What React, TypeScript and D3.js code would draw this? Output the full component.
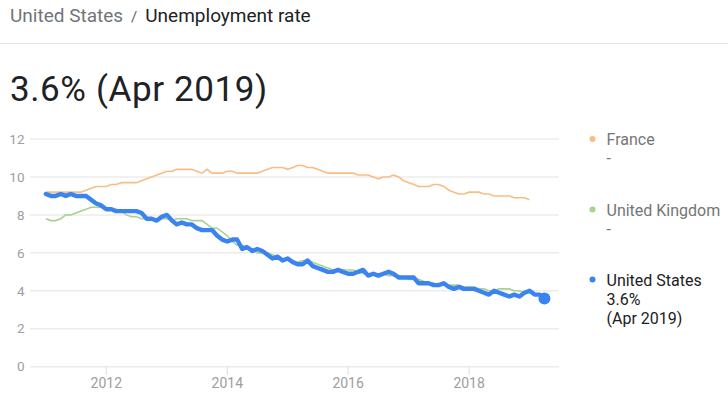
import * as d3 from "d3";

// monthly values, Jan 2011 onwards
const START_YEAR = 2011;

const usRate = [
  9.1, 9.0, 9.0, 9.1, 9.0, 9.1, 9.0, 9.0, 9.0, 8.8, 8.6, 8.5,
  8.3, 8.3, 8.2, 8.2, 8.2, 8.2, 8.2, 8.1, 7.8, 7.8, 7.7, 7.9,
  8.0, 7.7, 7.5, 7.6, 7.5, 7.5, 7.3, 7.2, 7.2, 7.2, 6.9, 6.7,
  6.6, 6.7, 6.7, 6.2, 6.3, 6.1, 6.2, 6.1, 5.9, 5.7, 5.8, 5.6,
  5.7, 5.5, 5.4, 5.4, 5.6, 5.3, 5.2, 5.1, 5.0, 5.0, 5.1, 5.0,
  4.9, 4.9, 5.0, 5.1, 4.8, 4.9, 4.8, 4.9, 5.0, 4.9, 4.7, 4.7,
  4.7, 4.7, 4.4, 4.4, 4.4, 4.3, 4.3, 4.4, 4.2, 4.1, 4.2, 4.1,
  4.1, 4.1, 4.0, 3.9, 3.8, 4.0, 3.9, 3.8, 3.7, 3.8, 3.7, 3.9,
  4.0, 3.8, 3.8, 3.6,
];

const franceRate = [
  9.2, 9.2, 9.2, 9.2, 9.2, 9.2, 9.2, 9.2, 9.3, 9.4, 9.5, 9.5,
  9.5, 9.6, 9.6, 9.7, 9.7, 9.7, 9.7, 9.8, 9.9, 10.0, 10.1, 10.2,
  10.3, 10.3, 10.4, 10.4, 10.4, 10.4, 10.3, 10.2, 10.4, 10.2, 10.2, 10.2,
  10.3, 10.3, 10.2, 10.2, 10.2, 10.2, 10.2, 10.3, 10.4, 10.5, 10.5, 10.5,
  10.4, 10.5, 10.6, 10.6, 10.5, 10.5, 10.4, 10.3, 10.2, 10.2, 10.2, 10.2,
  10.2, 10.2, 10.1, 10.1, 10.1, 10.0, 9.9, 10.0, 10.0, 10.1, 10.0, 9.8,
  9.7, 9.6, 9.5, 9.5, 9.5, 9.6, 9.6, 9.5, 9.3, 9.2, 9.1, 9.1,
  9.2, 9.2, 9.2, 9.1, 9.1, 9.0, 9.0, 9.0, 9.0, 8.9, 8.9, 8.9,
  8.8,
];

const ukRate = [
  7.8, 7.7, 7.7, 7.8, 8.0, 8.0, 8.1, 8.2, 8.3, 8.4, 8.4, 8.4,
  8.3, 8.3, 8.2, 8.2, 8.0, 7.9, 7.9, 7.8, 7.8, 7.8, 7.8, 7.8,
  7.8, 7.7, 7.8, 7.8, 7.8, 7.7, 7.7, 7.7, 7.5, 7.3, 7.3, 7.1,
  6.9, 6.6, 6.4, 6.4, 6.3, 6.2, 6.0, 6.0, 6.0, 5.9, 5.8, 5.7,
  5.7, 5.6, 5.5, 5.6, 5.6, 5.5, 5.4, 5.3, 5.2, 5.1, 5.1, 5.1,
  5.1, 5.1, 5.0, 4.9, 4.9, 4.9, 4.9, 4.9, 4.8, 4.8, 4.8, 4.7,
  4.6, 4.6, 4.6, 4.5, 4.4, 4.4, 4.3, 4.3, 4.3, 4.3, 4.3, 4.2,
  4.2, 4.2, 4.1, 4.1, 4.0, 4.0, 4.1, 4.1, 4.1, 4.0, 4.0, 3.9,
  3.9,
];

const yTicks = [0, 2, 4, 6, 8, 10, 12];
const xTickYears = [2012, 2014, 2016, 2018];

const COLORS = {
  france: "#f9bd84",
  uk: "#a9d28f",
  us: "#3b84ef",
  grid: "#ececec",
  axisText: "#9e9e9e",
  legendText: "#757575",
  dark: "#202124",
};

const FONT = "Roboto, 'Noto Sans', sans-serif";

const PLOT = { left: 30, right: 559, top: 139, bottom: 366.7 };

type Pt = { date: Date; value: number };

function toPoints(values: number[]): Pt[] {
  return values.map((value, i) => ({
    date: new Date(START_YEAR + Math.floor(i / 12), i % 12, 1),
    value,
  }));
}

export default function App() {
  const x = d3
    .scaleTime()
    .domain([new Date(2010, 8, 27), new Date(2019, 5, 28)])
    .range([PLOT.left, PLOT.right]);
  const y = d3.scaleLinear().domain([0, 12]).range([PLOT.bottom, PLOT.top]);

  const line = d3
    .line<Pt>()
    .x((d) => x(d.date))
    .y((d) => y(d.value));

  const us = toPoints(usRate);
  const last = us[us.length - 1];

  const legend = [
    { name: "France", color: COLORS.france, lines: ["-"], top: 139, dark: false },
    { name: "United Kingdom", color: COLORS.uk, lines: ["-"], top: 209.5, dark: false },
    { name: "United States", color: COLORS.us, lines: ["3.6%", "(Apr 2019)"], top: 279.5, dark: true },
  ];

  return (
    <svg
      width={728}
      height={395}
      style={{ position: "absolute", left: 0, top: 0, background: "#fff" }}
      fontFamily={FONT}
    >
      {/* header */}
      <text x={10} y={22} fontSize={19}>
        <tspan fill="#70757a">United States</tspan>
        <tspan fill="#5f6368" dx={8} fontSize={15}>/</tspan>
        <tspan fill={COLORS.dark} dx={8}>Unemployment rate</tspan>
      </text>
      <line x1={0} x2={728} y1={43.5} y2={43.5} stroke="#e3e3e3" />
      <text x={10} y={101} fontSize={35} letterSpacing={0.6} fill={COLORS.dark}>
        3.6% (Apr 2019)
      </text>

      {/* grid + y labels */}
      {yTicks.map((t) => (
        <g key={t}>
          <line
            x1={PLOT.left}
            x2={PLOT.right}
            y1={y(t)}
            y2={y(t)}
            stroke={COLORS.grid}
            strokeWidth={1.5}
          />
          <text
            x={24.5}
            y={y(t)}
            dy="0.35em"
            textAnchor="end"
            fontSize={13.5}
            fill={COLORS.axisText}
          >
            {t}
          </text>
        </g>
      ))}

      {/* x ticks */}
      {xTickYears.map((yr) => {
        const xx = x(new Date(yr, 0, 1));
        return (
          <g key={yr}>
            <line x1={xx} x2={xx} y1={PLOT.bottom} y2={PLOT.bottom + 8} stroke="#dddddd" />
            <text x={xx} y={388} textAnchor="middle" fontSize={14} fill={COLORS.axisText}>
              {yr}
            </text>
          </g>
        );
      })}

      {/* series */}
      <path d={line(toPoints(franceRate)) ?? ""} fill="none" stroke={COLORS.france} strokeWidth={1.6} />
      <path d={line(toPoints(ukRate)) ?? ""} fill="none" stroke={COLORS.uk} strokeWidth={1.6} />
      <path
        d={line(us) ?? ""}
        fill="none"
        stroke={COLORS.us}
        strokeWidth={4.4}
        strokeLinejoin="round"
        strokeLinecap="round"
      />
      <circle cx={x(last.date)} cy={y(last.value)} r={6} fill={COLORS.us} />

      {/* legend */}
      {legend.map((l) => (
        <g key={l.name}>
          <circle cx={592.5} cy={l.top} r={3} fill={l.color} />
          <text x={606.5} y={l.top + 6} fontSize={16} fill={l.dark ? COLORS.dark : COLORS.legendText}>
            {l.name}
            {l.lines.map((s, i) => (
              <tspan key={i} x={606.5} dy={19}>
                {s}
              </tspan>
            ))}
          </text>
        </g>
      ))}
    </svg>
  );
}
